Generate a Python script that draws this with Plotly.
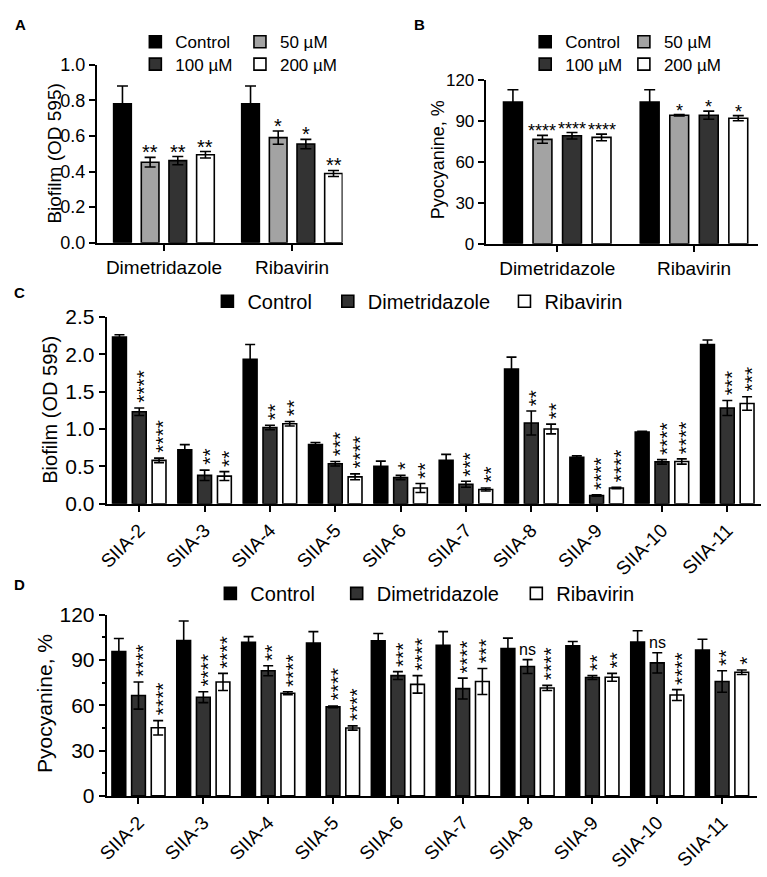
import plotly.graph_objects as go

W, H = 767, 877
FONT = "Liberation Sans, Arial, sans-serif"

# ---------------- Panel A : biofilm (OD 595) ----------------
ab_groups = ["Dimetridazole", "Ribavirin"]
ab_series = ["Control", "50 µM", "100 µM", "200 µM"]
a_control = [0.78, 0.78]
a_50 = [0.452, 0.59]
a_100 = [0.461, 0.554]
a_200 = [0.494, 0.389]
a_control_err = [0.10, 0.10]
a_50_err = [0.027, 0.037]
a_100_err = [0.023, 0.026]
a_200_err = [0.018, 0.017]
a_sig_control = ["", ""]
a_sig_50 = ["**", "*"]
a_sig_100 = ["**", "*"]
a_sig_200 = ["**", "**"]
a_yticks = [0.0, 0.2, 0.4, 0.6, 0.8, 1.0]

# ---------------- Panel B : pyocyanine % ----------------
b_control = [104, 104]
b_50 = [76.6, 94.3]
b_100 = [79.2, 94.3]
b_200 = [78.0, 92.1]
b_control_err = [9, 9]
b_50_err = [2.9, 0.5]
b_100_err = [2.4, 3.0]
b_200_err = [2.4, 1.9]
b_sig_control = ["", ""]
b_sig_50 = ["****", "*"]
b_sig_100 = ["****", "*"]
b_sig_200 = ["****", "*"]
b_yticks = [0, 30, 60, 90, 120]

# ---------------- Panels C / D : strains ----------------
strains = ["SIIA-2", "SIIA-3", "SIIA-4", "SIIA-5", "SIIA-6",
           "SIIA-7", "SIIA-8", "SIIA-9", "SIIA-10", "SIIA-11"]
cd_series = ["Control", "Dimetridazole", "Ribavirin"]

c_control = [2.23, 0.72, 1.93, 0.79, 0.50, 0.58, 1.80, 0.62, 0.96, 2.13]
c_control_err = [0.03, 0.07, 0.20, 0.03, 0.07, 0.08, 0.16, 0.02, 0.01, 0.06]
c_dim = [1.23, 0.38, 1.02, 0.535, 0.35, 0.26, 1.08, 0.11, 0.56, 1.28]
c_dim_err = [0.05, 0.07, 0.03, 0.03, 0.03, 0.04, 0.16, 0.01, 0.03, 0.10]
c_rib = [0.58, 0.37, 1.07, 0.36, 0.21, 0.19, 1.00, 0.21, 0.565, 1.34]
c_rib_err = [0.03, 0.06, 0.03, 0.04, 0.06, 0.02, 0.065, 0.01, 0.035, 0.09]
c_sig_control = [""] * 10
c_sig_dim = ["****", "**", "**", "***", "*", "***", "**", "****", "****", "***"]
c_sig_rib = ["****", "**", "**", "****", "**", "**", "**", "****", "****", "***"]
c_yticks = [0.0, 0.5, 1.0, 1.5, 2.0, 2.5]

d_control = [95.6, 103, 101.7, 101.2, 102.8, 99.7, 97.6, 99.5, 101.9, 96.7]
d_control_err = [8.7, 12.9, 3.8, 7.6, 4.8, 9.1, 6.9, 2.8, 7.5, 7.1]
d_dim = [66.5, 65.4, 82.9, 59.0, 79.7, 71.1, 85.7, 78.4, 88.1, 75.8]
d_dim_err = [9.0, 3.6, 3.3, 0.6, 2.6, 6.9, 4.6, 1.3, 6.7, 7.1]
d_rib = [45.1, 75.5, 68.0, 45.0, 73.9, 75.8, 71.5, 78.6, 66.8, 81.9]
d_rib_err = [4.8, 5.7, 1.0, 1.4, 5.8, 8.6, 1.7, 2.6, 3.6, 1.5]
d_sig_control = [""] * 10
d_sig_dim = ["****", "****", "**", "****", "***", "****", "ns", "**", "ns", "**"]
d_sig_rib = ["****", "****", "****", "****", "****", "***", "****", "**", "****", "*"]
d_yticks = [0, 30, 60, 90, 120]

AB_COLORS = ["#000000", "#a3a3a3", "#333333", "#ffffff"]
CD_COLORS = ["#000000", "#333333", "#ffffff"]


def pxx(p):
    return p / W


def pxy(p):
    return 1 - p / H


fig = go.Figure()
annotations = []
legends = {}
legend_counter = [0]


def new_legend(cx, cy, size):
    legend_counter[0] += 1
    key = "legend" if legend_counter[0] == 1 else "legend%d" % legend_counter[0]
    legends[key] = dict(
        x=pxx(cx - 20), y=pxy(cy), xanchor="left", yanchor="middle",
        xref="paper", yref="paper", orientation="h",
        bgcolor="rgba(0,0,0,0)", borderwidth=0, itemwidth=30,
        font=dict(family=FONT, size=size, color="black"),
    )
    return key


def add_panel(ax, cats, vals_list, errs_list, sigs_list, names, colors,
              slot, width, cap, legend_pos, legend_size, star_size, vertical):
    n = len(vals_list)
    xa = "x" if ax == 1 else "x%d" % ax
    ya = "y" if ax == 1 else "y%d" % ax
    for i in range(n):
        off = (i - (n - 1) / 2) * slot - width / 2
        lg = new_legend(legend_pos[i][0], legend_pos[i][1], legend_size)
        fig.add_trace(go.Bar(
            x=cats, y=vals_list[i], name=names[i], width=width, offset=off,
            marker=dict(color=colors[i], line=dict(color="black", width=1.6)),
            error_y=dict(type="data", array=errs_list[i], visible=True,
                         color="black", thickness=1.6, width=cap),
            xaxis=xa, yaxis=ya, legend=lg, showlegend=True,
        ))
        center = (i - (n - 1) / 2) * slot
        for j, s in enumerate(sigs_list[i]):
            if not s:
                continue
            top = vals_list[i][j] + errs_list[i][j]
            if vertical and s != "ns":
                # stars stacked vertically (text turned by 90 degrees)
                annotations.append(dict(
                    x=j + center, y=top, xref=xa, yref=ya, text=s,
                    textangle=-90, showarrow=False, xanchor="center",
                    yanchor="bottom", xshift=4, yshift=3,
                    font=dict(family=FONT, size=star_size,
                              color="rgba(0,0,0,0.99)")))
            elif s == "ns":
                annotations.append(dict(
                    x=j + center, y=top, xref=xa, yref=ya, text=s,
                    showarrow=False, xanchor="center", yanchor="bottom",
                    yshift=0, font=dict(family=FONT, size=16, color="black")))
            else:
                annotations.append(dict(
                    x=j + center, y=top, xref=xa, yref=ya, text=s,
                    showarrow=False, xanchor="center", yanchor="bottom",
                    yshift=-8,
                    font=dict(family=FONT, size=star_size, color="black")))


add_panel(1, ab_groups, [a_control, a_50, a_100, a_200],
          [a_control_err, a_50_err, a_100_err, a_200_err],
          [a_sig_control, a_sig_50, a_sig_100, a_sig_200],
          ab_series, AB_COLORS, 0.216, 0.138, 5.5,
          [(147, 31), (253, 31), (147, 54), (253, 54)], 17, 20, False)
add_panel(2, ab_groups, [b_control, b_50, b_100, b_200],
          [b_control_err, b_50_err, b_100_err, b_200_err],
          [b_sig_control, b_sig_50, b_sig_100, b_sig_200],
          ab_series, AB_COLORS, 0.216, 0.138, 5.5,
          [(542, 31), (642, 31), (542, 54), (642, 54)], 17, 18, False)
add_panel(3, strains, [c_control, c_dim, c_rib],
          [c_control_err, c_dim_err, c_rib_err],
          [c_sig_control, c_sig_dim, c_sig_rib],
          cd_series, CD_COLORS, 0.303, 0.212, 5,
          [(220, 297), (342, 297), (521, 297)], 20, 21, True)
add_panel(4, strains, [d_control, d_dim, d_rib],
          [d_control_err, d_dim_err, d_rib_err],
          [d_sig_control, d_sig_dim, d_sig_rib],
          cd_series, CD_COLORS, 0.303, 0.212, 5,
          [(223, 597), (351, 597), (533, 597)], 20, 21, True)


def xaxis(left, right, rng, cats, size, angle):
    return dict(
        domain=[pxx(left), pxx(right)], type="category",
        categoryorder="array", categoryarray=cats, range=rng,
        showline=True, linecolor="black", linewidth=2,
        ticks="outside", ticklen=6, tickwidth=2, tickcolor="black",
        showgrid=False, zeroline=False, tickangle=angle,
        tickfont=dict(family=FONT, size=size, color="black"), fixedrange=True,
    )


def yaxis(top, bottom, ticks, fmt, size, minor=None):
    d = dict(
        domain=[pxy(bottom), pxy(top)], range=[ticks[0], ticks[-1]],
        tickvals=ticks, tickformat=fmt,
        showline=True, linecolor="black", linewidth=2,
        ticks="outside", ticklen=6, tickwidth=2, tickcolor="black",
        showgrid=False, zeroline=False,
        tickfont=dict(family=FONT, size=size, color="black"), fixedrange=True,
    )
    if minor:
        d["minor"] = dict(ticks="outside", ticklen=3, tickwidth=1.5,
                          tickcolor="black", dtick=minor, showgrid=False)
    return d


layout = dict(
    width=W, height=H, margin=dict(l=0, r=0, t=0, b=0),
    paper_bgcolor="white", plot_bgcolor="white", barmode="overlay",
    font=dict(family=FONT, color="black"),
    xaxis=xaxis(88, 337, [-0.524, 1.395], ab_groups, 19, 0),
    yaxis=yaxis(54, 237, a_yticks, ".1f", 18),
    xaxis2=xaxis(482, 758, [-0.523, 1.469], ab_groups, 19, 0),
    yaxis2=yaxis(70, 238, b_yticks, "d", 17),
    xaxis3=xaxis(98, 761, [-0.498, 9.517], strains, 19, -45),
    yaxis3=yaxis(313, 505, c_yticks, ".1f", 21),
    xaxis4=xaxis(98, 757, [-0.49, 9.54], strains, 19, -45),
    yaxis4=yaxis(619, 805, d_yticks, "d", 21, minor=15),
)
layout["xaxis"]["anchor"] = "y"
layout["yaxis"]["anchor"] = "x"
for k in (2, 3, 4):
    layout["xaxis%d" % k]["anchor"] = "y%d" % k
    layout["yaxis%d" % k]["anchor"] = "x%d" % k
layout.update(legends)

titles = [
    ("Biofilm (OD 595)", 45, 145, 19),
    ("Pyocyanine, %", 434, 152, 18),
    ("Biofilm (OD 595)", 41, 408, 20),
    ("Pyocyanine, %", 35, 710, 21),
]
for txt, x, y, s in titles:
    annotations.append(dict(x=pxx(x), y=pxy(y), xref="paper", yref="paper",
                            text=txt, textangle=-90, showarrow=False,
                            xanchor="center", yanchor="middle",
                            font=dict(family=FONT, size=s, color="black")))
letters = [("A", 3, 13), ("B", 407, 13), ("C", 2, 288), ("D", 2, 588)]
for txt, x, y in letters:
    annotations.append(dict(x=pxx(x), y=pxy(y), xref="paper", yref="paper",
                            text="<b>%s</b>" % txt, showarrow=False,
                            xanchor="left", yanchor="middle",
                            font=dict(family=FONT, size=15, color="black")))

layout["annotations"] = annotations
fig.update_layout(**layout)

fig.write_html("out.html", config={"displayModeBar": False},
               post_script="document.body.style.margin='0';")
